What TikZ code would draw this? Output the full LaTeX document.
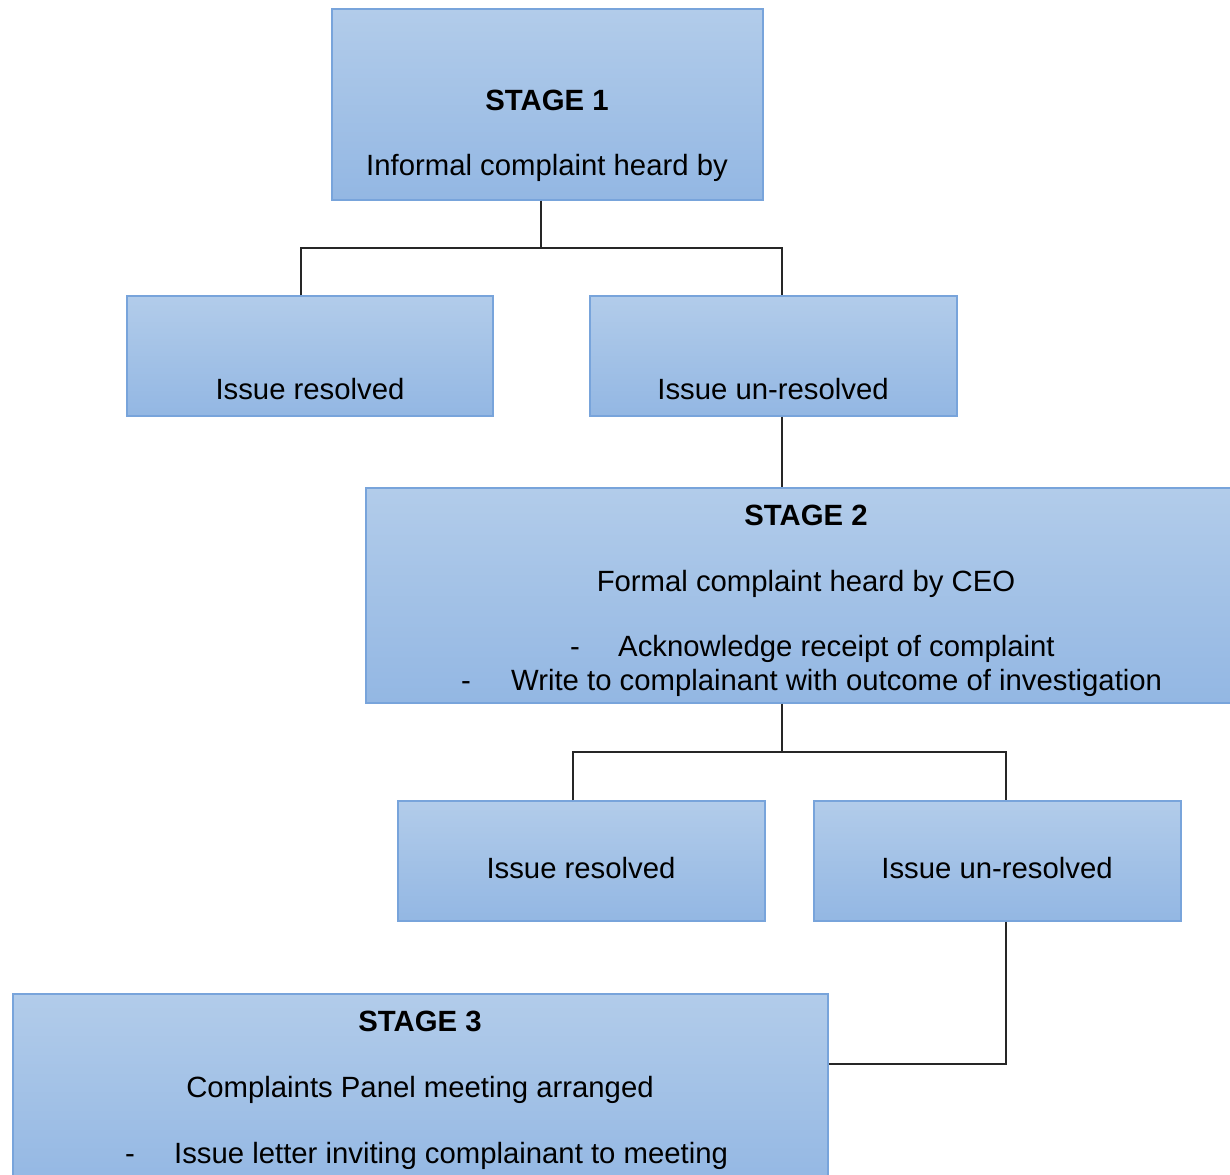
\documentclass[tikz,border=0pt]{standalone}
\usepackage{fontspec}
\setmainfont{Liberation Sans}
\definecolor{boxtop}{HTML}{B2CCEA}
\definecolor{boxbot}{HTML}{93B7E3}
\definecolor{boxline}{HTML}{78A4DB}
\begin{document}
\begin{tikzpicture}[x=1pt,y=-1pt,
  box/.style={draw=boxline, line width=1.3pt, top color=boxtop, bottom color=boxbot, rectangle, inner sep=0pt},
  conn/.style={draw=black!85, line width=1.3pt},
  txt/.style={anchor=base, inner sep=0pt, font=\fontsize{29.3}{35}\selectfont},
  txtl/.style={txt, anchor=base west},
  bold/.style={txt, font=\fontsize{29.3}{35}\selectfont\bfseries}]
\clip (0,0) rectangle (1230,1174);
% boxes
\node[box, minimum width=431pt, minimum height=191pt] (s1) at (547.5,104.5) {};
\node[box, minimum width=366pt, minimum height=120pt] (r1) at (310,356) {};
\node[box, minimum width=367pt, minimum height=120pt] (u1) at (773.5,356) {};
\node[box, minimum width=880pt, minimum height=215pt] (s2) at (806,595.5) {};
\node[box, minimum width=367pt, minimum height=120pt] (r2) at (581.5,861) {};
\node[box, minimum width=367pt, minimum height=120pt] (u2) at (997.5,861) {};
\node[box, minimum width=815pt, minimum height=196pt] (s3) at (420.5,1092) {};
% texts
\node[bold] (t1a) at (547,111) {STAGE 1};
\node[txt] (t1b) at (547,176) {Informal complaint heard by};
\node[txt] (tr1) at (310,399) {Issue resolved};
\node[txt] (tu1) at (773,399) {Issue un-resolved};
\node[bold] (t2a) at (806,525) {STAGE 2};
\node[txt] (t2b) at (806,591) {Formal complaint heard by CEO};
\node[txt] (d2a) at (575,656) {-};
\node[txtl] (t2c) at (618,656) {Acknowledge receipt of complaint};
\node[txt] (d2b) at (466,690) {-};
\node[txtl] (t2d) at (511,690) {Write to complainant with outcome of investigation};
\node[txt] (tr2) at (581,878) {Issue resolved};
\node[txt] (tu2) at (997,878) {Issue un-resolved};
\node[bold] (t3a) at (420,1031) {STAGE 3};
\node[txt] (t3b) at (420,1097) {Complaints Panel meeting arranged};
\node[txt] (d3) at (130,1163) {-};
\node[txtl] (t3c) at (174,1163) {Issue letter inviting complainant to meeting};
% connectors
\coordinate (j1) at (541,248);
\coordinate (j1l) at (301,248);
\coordinate (j1r) at (782,248);
\draw[conn] (s1.south -| j1) -- (j1);
\draw[conn] (r1.north -| j1l) -- (j1l) -- (j1r) -- (u1.north -| j1r);
\draw[conn] (u1.south -| j1r) -- (s2.north -| j1r);
\coordinate (j2) at (782,752);
\coordinate (j2l) at (573,752);
\coordinate (j2r) at (1006,752);
\draw[conn] (s2.south -| j2) -- (j2);
\draw[conn] (r2.north -| j2l) -- (j2l) -- (j2r) -- (u2.north -| j2r);
\coordinate (j3) at (1006,1064);
\draw[conn] (u2.south -| j3) -- (j3) -- (s3.east |- j3);
\end{tikzpicture}
\end{document}
